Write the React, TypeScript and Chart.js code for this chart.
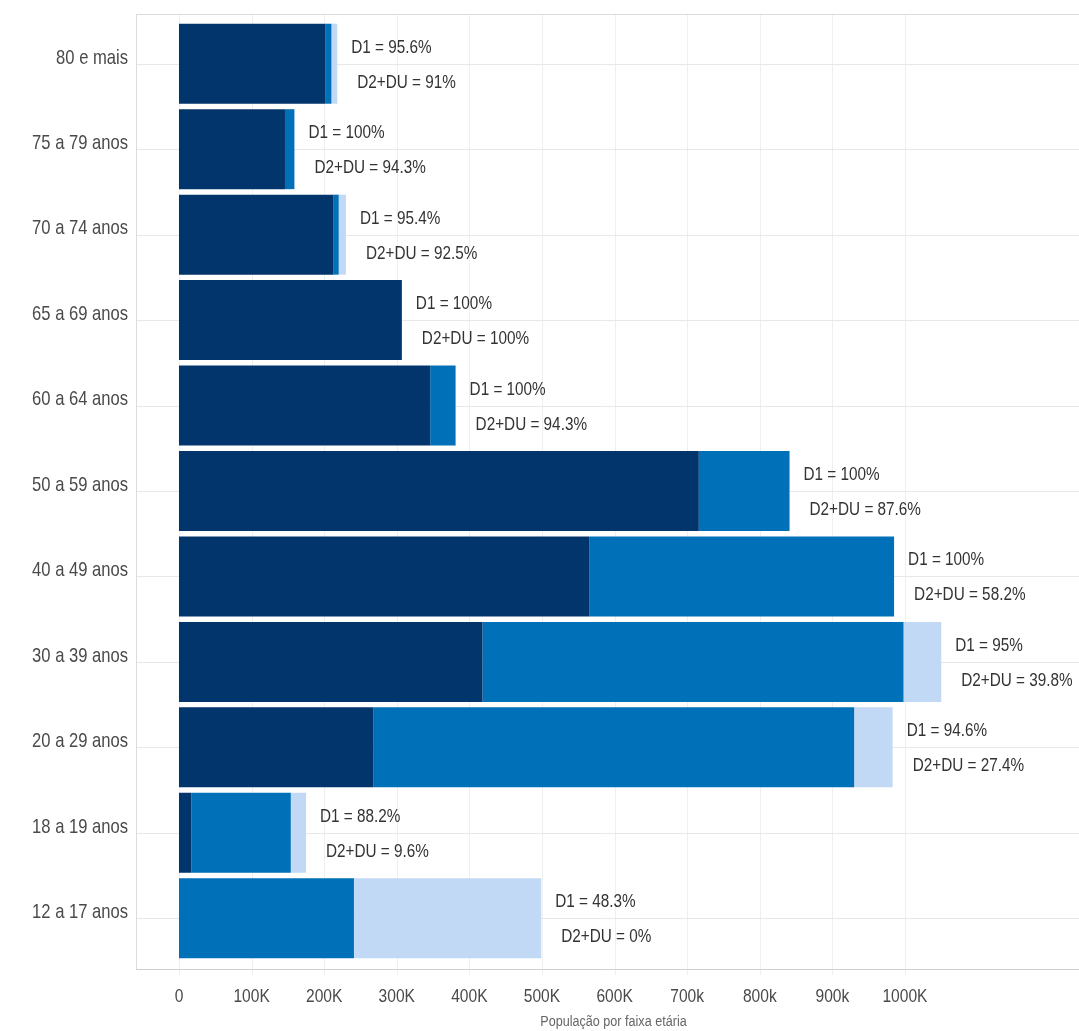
import React, { useEffect, useRef } from "react";
import { Chart, registerables } from "chart.js";

Chart.register(...registerables);

const categories = [
  "80 e mais",
  "75 a 79 anos",
  "70 a 74 anos",
  "65 a 69 anos",
  "60 a 64 anos",
  "50 a 59 anos",
  "40 a 49 anos",
  "30 a 39 anos",
  "20 a 29 anos",
  "18 a 19 anos",
  "12 a 17 anos",
];

// population segments (people)
const fullyVaccinated = [202000, 146000, 213000, 307000, 346000, 716000, 565000, 418000, 268000, 17000, 0];
const firstDoseOnly = [8000, 13000, 7000, 0, 35000, 125000, 420000, 580000, 662000, 137000, 241000];
const notVaccinated = [8000, 0, 10000, 0, 0, 0, 0, 52000, 53000, 21000, 258000];

const d1Percent = ["95.6", "100", "95.4", "100", "100", "100", "100", "95", "94.6", "88.2", "48.3"];
const d2Percent = ["91", "94.3", "92.5", "100", "94.3", "87.6", "58.2", "39.8", "27.4", "9.6", "0"];

const tickValues = [0, 100000, 200000, 300000, 400000, 500000, 600000, 700000, 800000, 900000, 1000000];
const tickLabels = ["0", "100K", "200K", "300K", "400K", "500K", "600K", "700k", "800k", "900k", "1000K"];

const axisTitle = "População por faixa etária";

const FONT = '"Liberation Sans", Arial, sans-serif';

function narrowText(
  ctx: CanvasRenderingContext2D,
  text: string,
  x: number,
  y: number,
  size: number,
  sx: number,
  color: string,
  align: CanvasTextAlign
) {
  ctx.save();
  ctx.translate(x, y);
  ctx.scale(sx, 1);
  ctx.font = `${size}px ${FONT}`;
  ctx.fillStyle = color;
  ctx.textAlign = align;
  ctx.textBaseline = "middle";
  ctx.fillText(text, 0, 0);
  ctx.restore();
}

export default function App() {
  const canvasRef = useRef<HTMLCanvasElement | null>(null);

  useEffect(() => {
    const canvas = canvasRef.current;
    if (!canvas) return;

    const framePlugin = {
      id: "frame",
      beforeDatasetsDraw(chart: any) {
        const { ctx, chartArea } = chart;
        const xs = chart.scales.x;
        const ys = chart.scales.y;
        const top = 14;
        const bottom = 969;
        ctx.save();
        ctx.lineWidth = 1;
        ctx.strokeStyle = "#efefef";
        tickValues.forEach((v) => {
          const px = Math.round(xs.getPixelForValue(v)) + 0.5;
          ctx.beginPath();
          ctx.moveTo(px, top);
          ctx.lineTo(px, bottom + 6);
          ctx.stroke();
        });
        ctx.strokeStyle = "#e8e8e8";
        categories.forEach((_, i) => {
          const py = Math.round(ys.getPixelForValue(i)) + 0.5;
          ctx.beginPath();
          ctx.moveTo(chartArea.left, py);
          ctx.lineTo(chartArea.right, py);
          ctx.stroke();
        });
        ctx.strokeStyle = "#dcdcdc";
        ctx.beginPath();
        ctx.moveTo(chartArea.left + 0.5, top);
        ctx.lineTo(chartArea.left + 0.5, bottom);
        ctx.moveTo(chartArea.left, top + 0.5);
        ctx.lineTo(chartArea.right, top + 0.5);
        ctx.stroke();
        ctx.strokeStyle = "#cfcfcf";
        ctx.beginPath();
        ctx.moveTo(chartArea.left, bottom + 0.5);
        ctx.lineTo(chartArea.right, bottom + 0.5);
        ctx.stroke();
        ctx.restore();
      },
      afterDatasetsDraw(chart: any) {
        const { ctx, chartArea } = chart;
        const xs = chart.scales.x;
        const ys = chart.scales.y;
        // category labels
        categories.forEach((c, i) => {
          const cy = ys.getPixelForValue(i);
          narrowText(ctx, c, chartArea.left - 8, cy - 6, 21, 0.79, "#4a4a4a", "right");
        });
        // x tick labels
        tickValues.forEach((v, i) => {
          narrowText(ctx, tickLabels[i], xs.getPixelForValue(v), 997, 19, 0.82, "#4a4a4a", "center");
        });
        // axis title
        narrowText(ctx, axisTitle, (chartArea.left + chartArea.right) / 2 + 6, 1022, 14, 0.9, "#666", "center");
        // data labels
        categories.forEach((_, i) => {
          const total = fullyVaccinated[i] + firstDoseOnly[i] + notVaccinated[i];
          const endX = xs.getPixelForValue(total);
          const cy = ys.getPixelForValue(i);
          narrowText(ctx, `D1 = ${d1Percent[i]}%`, endX + 14, cy - 16, 18, 0.85, "#333", "left");
          narrowText(ctx, `D2+DU = ${d2Percent[i]}%`, endX + 20, cy + 19, 18, 0.85, "#333", "left");
        });
      },
    };

    const chart = new Chart(canvas, {
      type: "bar",
      data: {
        labels: categories,
        datasets: [
          {
            label: "D2+DU",
            data: fullyVaccinated,
            backgroundColor: "#02356b",
            barPercentage: 0.936,
            categoryPercentage: 1,
          },
          {
            label: "D1",
            data: firstDoseOnly,
            backgroundColor: "#0070b8",
            barPercentage: 0.936,
            categoryPercentage: 1,
          },
          {
            label: "Não vacinados",
            data: notVaccinated,
            backgroundColor: "#c2d9f5",
            barPercentage: 0.936,
            categoryPercentage: 1,
          },
        ],
      },
      options: {
        indexAxis: "y",
        animation: false,
        responsive: true,
        maintainAspectRatio: false,
        layout: { padding: { top: 21, left: 0, right: 0, bottom: 0 } },
        plugins: {
          legend: { display: false },
          tooltip: { enabled: false },
        },
        scales: {
          x: {
            stacked: true,
            min: -59200,
            max: 1239700,
            grid: { display: false, drawTicks: false },
            border: { display: false },
            afterBuildTicks: (scale: any) => {
              scale.ticks = tickValues.map((v) => ({ value: v }));
            },
            afterFit: (scale: any) => {
              scale.height = 70;
            },
            ticks: { display: false },
          },
          y: {
            stacked: true,
            grid: { display: false, drawTicks: false },
            border: { display: false },
            afterFit: (scale: any) => {
              scale.width = 136;
            },
            ticks: { display: false },
          },
        },
      },
      plugins: [framePlugin],
    });

    return () => chart.destroy();
  }, []);

  return (
    <div style={{ position: "fixed", left: 0, top: 0, width: 1079, height: 1031, background: "#fff" }}>
      <canvas ref={canvasRef} />
    </div>
  );
}
